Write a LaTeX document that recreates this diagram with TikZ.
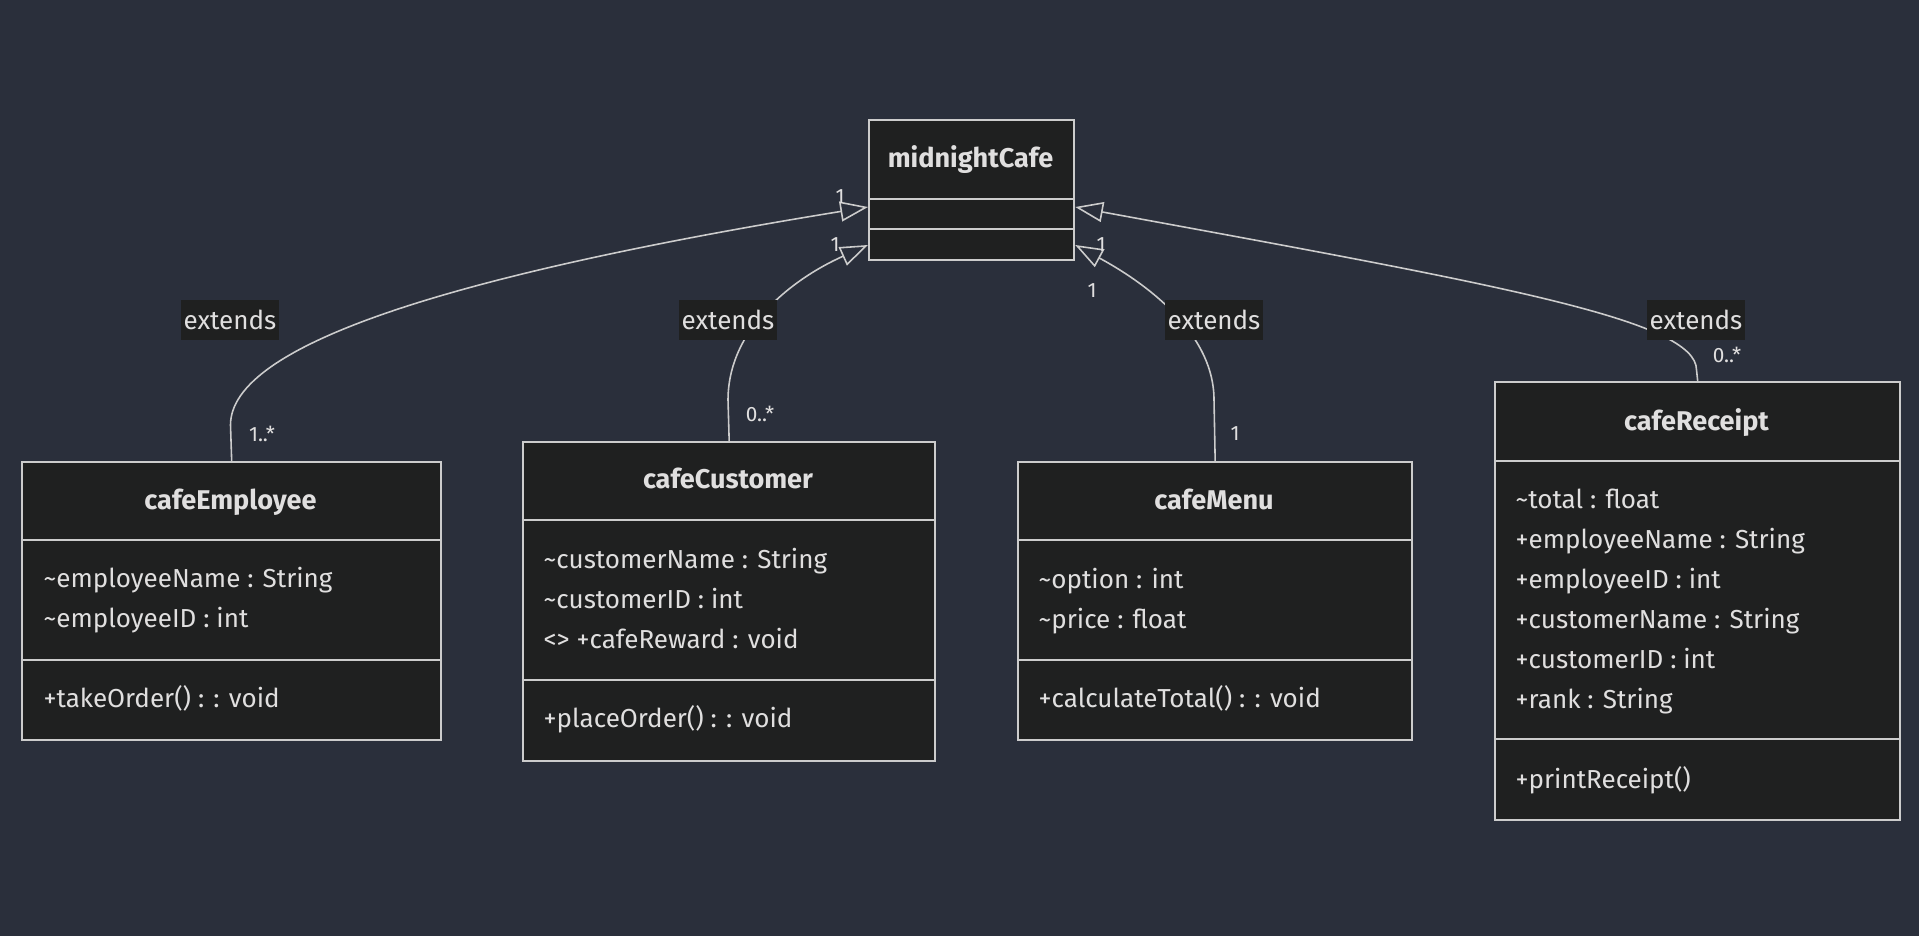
\documentclass[tikz,border=0pt]{standalone}
\usepackage{fontspec}
\setmainfont{Fira Sans}
\usetikzlibrary{arrows.meta,calc}
\definecolor{bgc}{HTML}{2A2F3B}
\definecolor{boxc}{HTML}{1F2020}
\definecolor{linec}{HTML}{CCCCCC}
\definecolor{textc}{HTML}{E0DFDF}
\tikzset{
  classbox/.style={draw=linec,fill=boxc,line width=0.6pt,inner sep=0pt,anchor=north west},
  classname/.style={text=textc,font=\fontsize{7.7}{9}\selectfont\bfseries,anchor=base,inner sep=0pt},
  member/.style={text=textc,font=\fontsize{7.4}{9}\selectfont,anchor=base west,inner sep=0pt},
  divider/.style={draw=linec,line width=0.6pt},
  extends/.style={draw=linec,line width=0.45pt,-{Triangle[open,length=7.9pt,width=5.7pt,fill=bgc]}},
  edgelabel/.style={fill=boxc,text=textc,font=\fontsize{7.4}{9}\selectfont,inner xsep=0.3mm,inner ysep=0pt,minimum height=4mm},
  mult/.style={text=textc,font=\fontsize{5.9}{7}\selectfont,inner sep=0pt}
}
\begin{document}
\begin{tikzpicture}[x=0.01cm,y=-0.01cm]
\fill[bgc] (0,0) rectangle (1919,936);
\useasboundingbox (0,0) rectangle (1919,936);

\node[classbox,minimum width=2.05cm,minimum height=1.4cm] (cafe) at (868,119) {};
\node[classbox,minimum width=4.19cm,minimum height=2.78cm] (emp) at (21,461) {};
\node[classbox,minimum width=4.12cm,minimum height=3.19cm] (cust) at (522,441) {};
\node[classbox,minimum width=3.94cm,minimum height=2.78cm] (menu) at (1017,461) {};
\node[classbox,minimum width=4.05cm,minimum height=4.38cm] (rec) at (1494,381) {};

\draw[divider] (868,199) -- (1073,199);
\draw[divider] (868,229) -- (1073,229);
\draw[divider] (21,540) -- (440,540);
\draw[divider] (21,660) -- (440,660);
\draw[divider] (522,520) -- (934,520);
\draw[divider] (522,680) -- (934,680);
\draw[divider] (1017,540) -- (1411,540);
\draw[divider] (1017,660) -- (1411,660);
\draw[divider] (1494,461) -- (1899,461);
\draw[divider] (1494,739) -- (1899,739);

\node[classname] (cafeT) at (970.5,167) {midnightCafe};
\node[classname] (empT) at (230.5,509) {cafeEmployee};
\node[classname] (custT) at (728,488) {cafeCustomer};
\node[classname] (menuT) at (1214,509) {cafeMenu};
\node[classname] (recT) at (1696.5,430) {cafeReceipt};

\foreach \t [count=\i] in {\textasciitilde employeeName : String,\textasciitilde employeeID : int}
  \node[member] (empA\i) at (43,{587+40*(\i-1)}) {\t};
\node[member] (empO1) at (43,707) {+takeOrder() : : void};

\foreach \t [count=\i] in {\textasciitilde customerName : String,\textasciitilde customerID : int,<> +cafeReward : void}
  \node[member] (custA\i) at (543,{568+40*(\i-1)}) {\t};
\node[member] (custO1) at (543,727) {+placeOrder() : : void};

\foreach \t [count=\i] in {\textasciitilde option : int,\textasciitilde price : float}
  \node[member] (menuA\i) at (1038,{588+40*(\i-1)}) {\t};
\node[member] (menuO1) at (1038,707) {+calculateTotal() : : void};

\foreach \t [count=\i] in {\textasciitilde total : float,+employeeName : String,+employeeID : int,+customerName : String,+customerID : int,+rank : String}
  \node[member] (recA\i) at (1515,{508+40*(\i-1)}) {\t};
\node[member] (recO1) at (1515,788) {+printReceipt()};

\draw[extends] (emp.north) -- (230.5,425) .. controls (230.5,345) and (450,275) .. ($(cafe.north west)+(0,88)$);
\draw[extends] (cust.north) -- (728,400) .. controls (728,330) and (790,280) .. ($(cafe.north west)+(0,126)$);
\draw[extends] (menu.north) -- (1214,400) .. controls (1214,330) and (1140,280) .. ($(cafe.north east)+(0,126)$);
\draw[extends] (rec.north) -- (1696.5,370) .. controls (1696.5,320) and (1500,285) .. ($(cafe.north east)+(0,88)$);

\node[edgelabel] (empL) at (230,320) {extends};
\node[edgelabel] (custL) at (728,320) {extends};
\node[edgelabel] (menuL) at (1214,320) {extends};
\node[edgelabel] (recL) at (1696,320) {extends};

\node[mult] (empM) at (262,434) {1..*};
\node[mult] (custM) at (760,414) {0..*};
\node[mult] (menuM) at (1235,434) {1};
\node[mult] (recM) at (1727,355) {0..*};
\node[mult] (cafeM1) at (840,197) {1};
\node[mult] (cafeM2) at (835,245) {1};
\node[mult] (cafeM3) at (1101,245) {1};
\node[mult] (cafeM4) at (1092,291) {1};
\end{tikzpicture}
\end{document}
